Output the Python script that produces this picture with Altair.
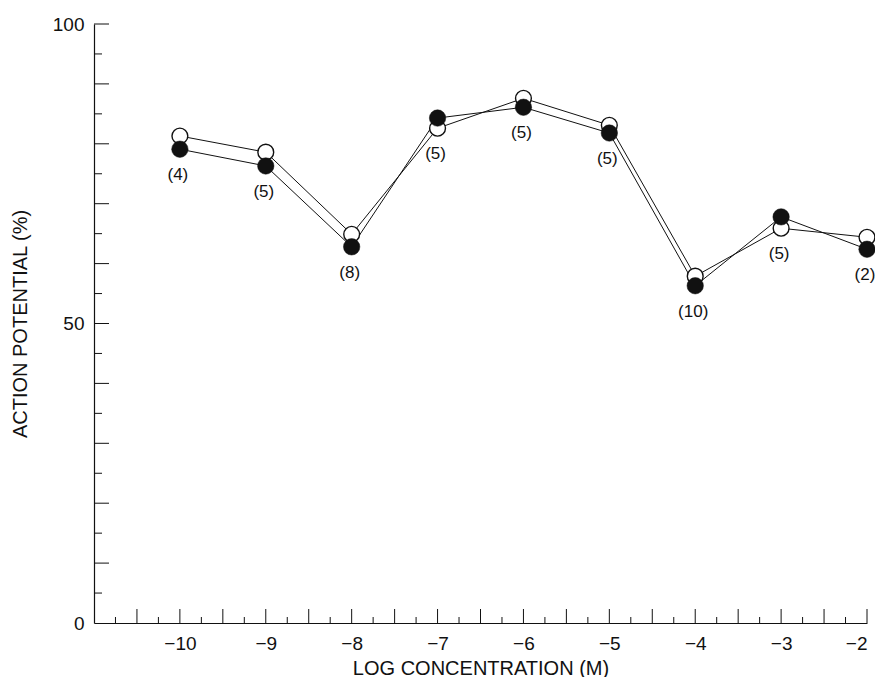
import altair as alt
import pandas as pd
import numpy as np

# ---- data ----
log_conc = [-10, -9, -8, -7, -6, -5, -4, -3, -2]
open_vals = [81.3, 78.6, 64.9, 82.6, 87.6, 83.1, 57.9, 65.9, 64.4]
filled_vals = [79.1, 76.3, 62.8, 84.3, 86.1, 81.8, 56.3, 67.8, 62.4]
n_labels = ["(4)", "(5)", "(8)", "(5)", "(5)", "(5)", "(10)", "(5)", "(2)"]

x_tick_labels = [-10, -9, -8, -7, -6, -5, -4, -3, -2]
y_tick_labels = [0, 50, 100]
x_major_ticks = [float(v) for v in np.arange(-10.5, -1.99, 0.5)]
x_minor_ticks = [float(v) for v in np.arange(-10.75, -2.2, 0.5)]
y_major_ticks = list(range(10, 101, 10))
y_minor_ticks = list(range(5, 100, 10))

W, H = 773, 599
FONT = "Liberation Sans"
INK = "#111111"

df = pd.DataFrame({"x": log_conc, "open": open_vals, "filled": filled_vals, "n": n_labels})
df["low"] = df[["open", "filled"]].min(axis=1)

xscale = alt.Scale(domain=[-11, -2], nice=False, zero=False)
yscale = alt.Scale(domain=[0, 100], nice=False, zero=False)

x_axis = alt.Axis(values=x_tick_labels, title="LOG CONCENTRATION (M)", tickSize=0,
                  labelPadding=11, grid=False, domainColor=INK, domainWidth=1.2,
                  labelFontSize=19, labelFont=FONT, labelColor=INK,
                  titleFontSize=20, titleFont=FONT, titleColor=INK,
                  titleFontWeight="normal", titlePadding=5)
y_axis = alt.Axis(values=y_tick_labels, title="ACTION POTENTIAL (%)", tickSize=0,
                  labelPadding=10, grid=False, domainColor=INK, domainWidth=1.2,
                  labelFontSize=19, labelFont=FONT, labelColor=INK,
                  titleFontSize=20, titleFont=FONT, titleColor=INK,
                  titleFontWeight="normal", titlePadding=22)


def X(field):
    return alt.X(field, scale=xscale, axis=x_axis, title="LOG CONCENTRATION (M)")


def Y(field):
    return alt.Y(field, scale=yscale, axis=y_axis, title="ACTION POTENTIAL (%)")


base = alt.Chart(df)

line_open = base.mark_line(color=INK, strokeWidth=1).encode(x=X("x:Q"), y=Y("open:Q"))
line_filled = base.mark_line(color=INK, strokeWidth=1).encode(x=X("x:Q"), y=Y("filled:Q"))
pts_open = base.mark_point(shape="circle", size=250, filled=True, fill="white",
                           stroke=INK, strokeWidth=1.4, opacity=1).encode(x=X("x:Q"), y=Y("open:Q"))
pts_filled = base.mark_point(shape="circle", size=270, filled=True, fill=INK,
                             stroke=INK, strokeWidth=0.5, opacity=1).encode(x=X("x:Q"), y=Y("filled:Q"))
labels = base.mark_text(dy=26, dx=-2, fontSize=17, font=FONT, color=INK, baseline="middle").encode(
    x=X("x:Q"), y=Y("low:Q"), text="n:N")


def xticks(vals, length):
    return alt.Chart(pd.DataFrame({"t": vals})).mark_rule(color=INK, strokeWidth=1).encode(
        x=X("t:Q"), y=alt.value(H), y2=alt.value(H - length))


def yticks(vals, length):
    return alt.Chart(pd.DataFrame({"t": vals})).mark_rule(color=INK, strokeWidth=1).encode(
        y=Y("t:Q"), x=alt.value(0), x2=alt.value(length))


chart = alt.layer(
    line_open,
    xticks(x_major_ticks, 14),
    xticks(x_minor_ticks, 6),
    yticks(y_major_ticks, 15),
    yticks(y_minor_ticks, 8),
    line_filled,
    pts_open,
    pts_filled,
    labels,
).properties(
    width=W,
    height=H,
    autosize=alt.AutoSizeParams(type="none"),
    padding={"left": 86, "top": 16, "right": 8, "bottom": 54},
    background="white",
).configure_view(stroke=None)

chart.save("out.html", embed_options={"renderer": "svg", "actions": False})
